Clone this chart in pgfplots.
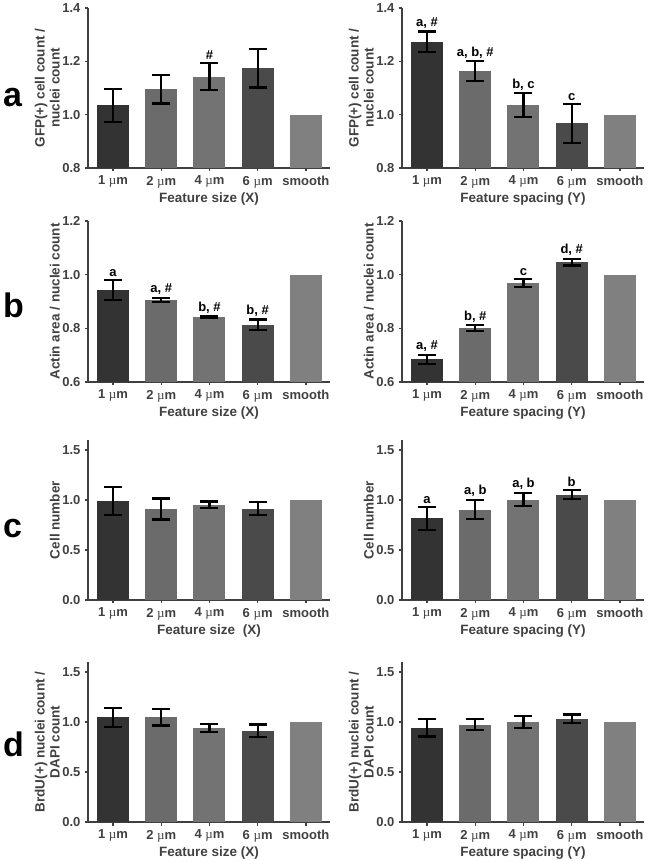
\documentclass[border=0pt]{standalone}
\usepackage{pgfplots}
\pgfplotsset{compat=1.18}
\usepackage{fontspec}
\setmainfont{Liberation Sans}
\newfontfamily\serifmu{Liberation Serif}
\definecolor{axgray}{HTML}{404040}
\definecolor{cA}{HTML}{333333}
\definecolor{cB}{HTML}{6B6B6B}
\definecolor{cC}{HTML}{737373}
\definecolor{cD}{HTML}{4A4A4A}
\definecolor{cE}{HTML}{808080}
\newcommand{\um}{{\serifmu\mdseries µ}m}
\tikzset{ann/.style={font=\fontsize{13}{13}\selectfont\bfseries, anchor=south, inner sep=1pt, yshift=2pt}}
\pgfplotsset{
  panel/.style={
    scale only axis, width=242pt, anchor=south west,
    axis lines=left, axis line style={axgray, line width=1.9pt, -},
    xmin=-0.52, xmax=4.5,
    xtick={0,1,2,3,4},
    xticklabels={1 \um, 2 \um, 4 \um, 6 \um, smooth},
    tick style={axgray, line width=1.3pt},
    major tick length=3.5pt, tick align=outside,
    ticklabel style={font=\fontsize{13}{13}\selectfont\bfseries, text=axgray},
    label style={font=\fontsize{13.5}{15}\selectfont\bfseries, text=axgray},
    ylabel style={align=center, inner sep=1pt, yshift=-2pt},
    xlabel style={yshift=2.5pt},
    /pgf/number format/assume math mode=true,
    /pgf/number format/fixed, /pgf/number format/fixed zerofill, /pgf/number format/precision=1,
    yticklabel style={xshift=-0.5pt},
    xticklabel style={yshift=-1pt},
    ybar, bar width=32pt, bar shift=0pt,
    error bars/y dir=both, error bars/y explicit,
    error bars/error bar style={black, line width=2.2pt},
    error bars/error mark options={black, line width=2.2pt, mark size=9pt, rotate=90},
    clip=false,
  },
  bA/.style={fill=cA, draw=none},
  bB/.style={fill=cB, draw=none},
  bC/.style={fill=cC, draw=none},
  bD/.style={fill=cD, draw=none},
  bE/.style={fill=cE, draw=none},
}
\begin{document}
\begin{tikzpicture}
\useasboundingbox (0pt,0pt) rectangle (649pt,861pt);
\node[anchor=base west, font=\fontsize{34}{34}\selectfont\bfseries, inner sep=0pt] at (3pt,754pt) {a};
\node[anchor=base west, font=\fontsize{34}{34}\selectfont\bfseries, inner sep=0pt] at (3pt,543pt) {b};
\node[anchor=base west, font=\fontsize{34}{34}\selectfont\bfseries, inner sep=0pt] at (3pt,323pt) {c};
\node[anchor=base west, font=\fontsize{34}{34}\selectfont\bfseries, inner sep=0pt] at (3pt,104pt) {d};

% ---- row a, left
\begin{axis}[panel, at={(88pt,693pt)}, height=160pt, ymin=0.8, ymax=1.4, ytick={0.8,1.0,1.2,1.4},
  ylabel={GFP(+) cell count /\\ nuclei count}, xlabel={Feature size (X)}]
\addplot[bA] coordinates {(0,1.035) +- (0,0.062)};
\addplot[bB] coordinates {(1,1.096) +- (0,0.054)};
\addplot[bC] coordinates {(2,1.143) +- (0,0.052)};
\addplot[bD] coordinates {(3,1.174) +- (0,0.072)};
\addplot[bE, error bars/y dir=none] coordinates {(4,1.0)};
\node[ann] at (axis cs:2,1.195) {\#};
\end{axis}

% ---- row a, right
\begin{axis}[panel, at={(402pt,693pt)}, height=160pt, ymin=0.8, ymax=1.4, ytick={0.8,1.0,1.2,1.4},
  ylabel={GFP(+) cell count /\\ nuclei count}, xlabel={Feature spacing (Y)}]
\addplot[bA] coordinates {(0,1.274) +- (0,0.038)};
\addplot[bB] coordinates {(1,1.163) +- (0,0.037)};
\addplot[bC] coordinates {(2,1.036) +- (0,0.044)};
\addplot[bD] coordinates {(3,0.968) +- (0,0.073)};
\addplot[bE, error bars/y dir=none] coordinates {(4,1.0)};
\node[ann] at (axis cs:0,1.312) {a, \#};
\node[ann] at (axis cs:1,1.200) {a, b, \#};
\node[ann] at (axis cs:2,1.080) {b, c};
\node[ann] at (axis cs:3,1.041) {c};
\end{axis}

% ---- row b, left
\begin{axis}[panel, at={(88pt,479pt)}, height=161pt, ymin=0.6, ymax=1.2, ytick={0.6,0.8,1.0,1.2},
  ylabel={Actin area / nuclei count}, xlabel={Feature size (X)}]
\addplot[bA] coordinates {(0,0.943) +- (0,0.038)};
\addplot[bB] coordinates {(1,0.906) +- (0,0.008)};
\addplot[bC] coordinates {(2,0.842) +- (0,0.003)};
\addplot[bD] coordinates {(3,0.814) +- (0,0.019)};
\addplot[bE, error bars/y dir=none] coordinates {(4,1.0)};
\node[ann] at (axis cs:0,0.981) {a};
\node[ann] at (axis cs:1,0.914) {a, \#};
\node[ann] at (axis cs:2,0.845) {b, \#};
\node[ann] at (axis cs:3,0.833) {b, \#};
\end{axis}

% ---- row b, right
\begin{axis}[panel, at={(402pt,479pt)}, height=161pt, ymin=0.6, ymax=1.2, ytick={0.6,0.8,1.0,1.2},
  ylabel={Actin area / nuclei count}, xlabel={Feature spacing (Y)}]
\addplot[bA] coordinates {(0,0.685) +- (0,0.017)};
\addplot[bB] coordinates {(1,0.801) +- (0,0.010)};
\addplot[bC] coordinates {(2,0.970) +- (0,0.015)};
\addplot[bD] coordinates {(3,1.046) +- (0,0.012)};
\addplot[bE, error bars/y dir=none] coordinates {(4,1.0)};
\node[ann] at (axis cs:0,0.702) {a, \#};
\node[ann] at (axis cs:1,0.811) {b, \#};
\node[ann] at (axis cs:2,0.985) {c};
\node[ann] at (axis cs:3,1.058) {d, \#};
\end{axis}

% ---- row c, left
\begin{axis}[panel, at={(88pt,261pt)}, height=160pt, ymin=0, ymax=1.6, ytick={0,0.5,1.0,1.5},
  ylabel={Cell number}, xlabel={Feature size\ \ (X)}]
\addplot[bA] coordinates {(0,0.990) +- (0,0.140)};
\addplot[bB] coordinates {(1,0.910) +- (0,0.105)};
\addplot[bC] coordinates {(2,0.953) +- (0,0.032)};
\addplot[bD] coordinates {(3,0.913) +- (0,0.065)};
\addplot[bE, error bars/y dir=none] coordinates {(4,1.0)};
\end{axis}

% ---- row c, right
\begin{axis}[panel, at={(402pt,261pt)}, height=160pt, ymin=0, ymax=1.6, ytick={0,0.5,1.0,1.5},
  ylabel={Cell number}, xlabel={Feature spacing (Y)}]
\addplot[bA] coordinates {(0,0.817) +- (0,0.115)};
\addplot[bB] coordinates {(1,0.903) +- (0,0.095)};
\addplot[bC] coordinates {(2,1.003) +- (0,0.067)};
\addplot[bD] coordinates {(3,1.053) +- (0,0.044)};
\addplot[bE, error bars/y dir=none] coordinates {(4,1.0)};
\node[ann] at (axis cs:0,0.932) {a};
\node[ann] at (axis cs:1,0.998) {a, b};
\node[ann] at (axis cs:2,1.070) {a, b};
\node[ann] at (axis cs:3,1.097) {b};
\end{axis}

% ---- row d, left
\begin{axis}[panel, at={(88pt,39pt)}, height=160pt, ymin=0, ymax=1.6, ytick={0,0.5,1.0,1.5},
  ylabel={BrdU(+) nuclei count /\\ DAPI count}, xlabel={Feature size (X)}]
\addplot[bA] coordinates {(0,1.047) +- (0,0.094)};
\addplot[bB] coordinates {(1,1.047) +- (0,0.083)};
\addplot[bC] coordinates {(2,0.940) +- (0,0.040)};
\addplot[bD] coordinates {(3,0.913) +- (0,0.062)};
\addplot[bE, error bars/y dir=none] coordinates {(4,1.0)};
\end{axis}

% ---- row d, right
\begin{axis}[panel, at={(402pt,39pt)}, height=160pt, ymin=0, ymax=1.6, ytick={0,0.5,1.0,1.5},
  ylabel={BrdU(+) nuclei count /\\ DAPI count}, xlabel={Feature spacing (Y)}]
\addplot[bA] coordinates {(0,0.943) +- (0,0.089)};
\addplot[bB] coordinates {(1,0.973) +- (0,0.055)};
\addplot[bC] coordinates {(2,1.000) +- (0,0.058)};
\addplot[bD] coordinates {(3,1.030) +- (0,0.044)};
\addplot[bE, error bars/y dir=none] coordinates {(4,1.0)};
\end{axis}
\end{tikzpicture}
\end{document}
